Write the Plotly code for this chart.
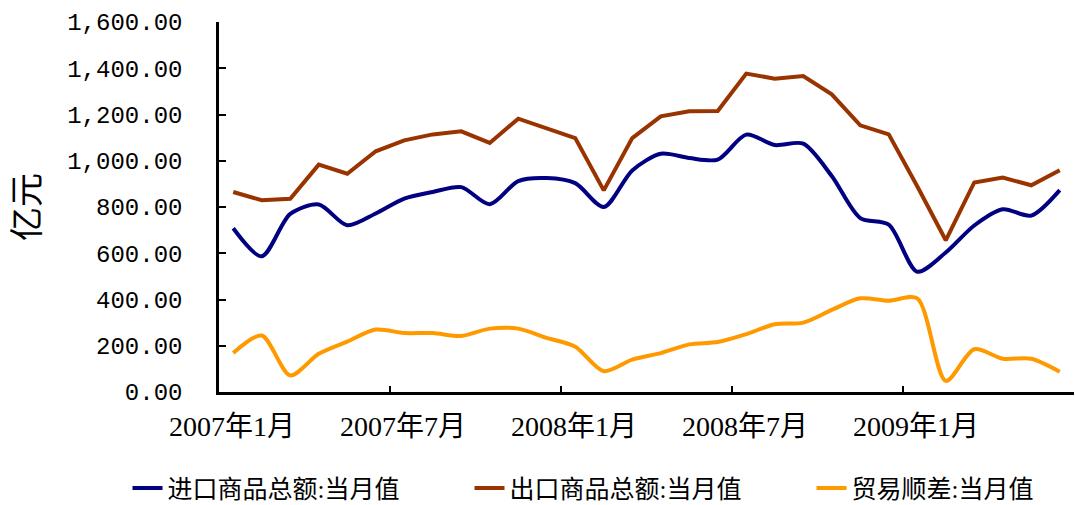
import plotly.graph_objects as go

# ---- data ----
months = [
    "2007年1月", "2007年2月", "2007年3月", "2007年4月", "2007年5月", "2007年6月",
    "2007年7月", "2007年8月", "2007年9月", "2007年10月", "2007年11月", "2007年12月",
    "2008年1月", "2008年2月", "2008年3月", "2008年4月", "2008年5月", "2008年6月",
    "2008年7月", "2008年8月", "2008年9月", "2008年10月", "2008年11月", "2008年12月",
    "2009年1月", "2009年2月", "2009年3月", "2009年4月", "2009年5月", "2009年6月",
]
imports = [708, 587, 770, 811, 721, 772, 836, 865, 886, 812, 912, 925,
           903, 800, 958, 1030, 1012, 1005, 1113, 1068, 1074, 934, 752, 724,
           520, 603, 720, 790, 763, 873]
exports = [865, 829, 836, 983, 944, 1041, 1088, 1114, 1127, 1077, 1182, 1140,
           1098, 872, 1098, 1192, 1214, 1215, 1377, 1355, 1366, 1287, 1153, 1114,
           890, 656, 906, 927, 894, 959]
balance = [169, 244, 72, 165, 218, 270, 255, 255, 242, 274, 274, 234,
           196, 90, 140, 168, 206, 216, 250, 293, 300, 355, 405, 395,
           405, 48, 185, 144, 144, 88]
series_names = ["进口商品总额:当月值", "出口商品总额:当月值", "贸易顺差:当月值"]
y_ticks = [0, 200, 400, 600, 800, 1000, 1200, 1400, 1600]
y_title = "亿元"

# ---- styling ----
colors = ["#000080", "#993300", "#FF9900"]
shapes = ["spline", "linear", "spline"]
x = list(range(len(months)))
tick_idx = list(range(0, len(months), 6))
x_tickvals = [i - 0.5 for i in tick_idx] + [len(months) - 0.5]
x_ticktext = [months[i] for i in tick_idx] + [""]

fig = go.Figure()
for name, vals, col, shp in zip(series_names, [imports, exports, balance], colors, shapes):
    fig.add_trace(go.Scatter(
        x=x, y=vals, name=name, mode="lines",
        line=dict(color=col, width=4, shape=shp, smoothing=0.8),
    ))

fig.update_layout(
    template="none",
    width=1075, height=505,
    margin=dict(l=219, r=1, t=22, b=113, pad=0, autoexpand=False),
    paper_bgcolor="white", plot_bgcolor="white",
    font=dict(family="Liberation Serif, Noto Sans CJK SC", color="black"),
    showlegend=True,
    legend=dict(
        orientation="h", x=-0.107, xanchor="left", y=-0.322, yanchor="bottom",
        font=dict(size=25, family="Liberation Serif, Noto Sans CJK SC"),
        entrywidth=297, entrywidthmode="pixels",
        bgcolor="rgba(0,0,0,0)", borderwidth=0,
    ),
)
fig.update_xaxes(
    range=[-0.5, len(months) - 0.5],
    tickmode="array", tickvals=x_tickvals, ticktext=x_ticktext,
    ticks="inside", ticklen=6, tickwidth=2, tickcolor="black",
    ticklabelshift=13, ticklabelstandoff=8,
    tickfont=dict(size=28, family="Liberation Serif, Noto Sans CJK SC"),
    showline=True, linecolor="black", linewidth=2.5,
    showgrid=False, zeroline=False, automargin=False,
)
fig.update_yaxes(
    range=[0, 1600],
    tickmode="array", tickvals=y_ticks, tickformat=",.2f",
    ticks="inside", ticklen=7, tickwidth=2, tickcolor="black",
    ticklabelstandoff=29,
    tickfont=dict(size=24, family="Liberation Mono, Noto Sans CJK SC"),
    showline=True, linecolor="black", linewidth=2.5,
    showgrid=False, zeroline=False, automargin=False,
    title=dict(text=y_title, standoff=18,
               font=dict(size=34, family="Noto Sans CJK SC")),
)

fig.write_html("out.html", config={"displayModeBar": False},
               post_script="document.body.style.margin='0';")
